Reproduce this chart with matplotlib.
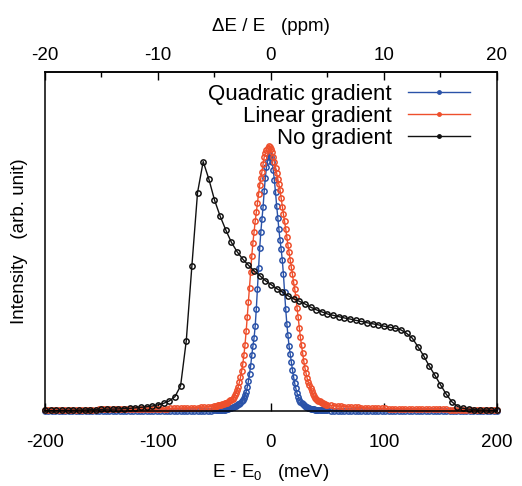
import numpy as np
import matplotlib
matplotlib.use('Agg')
import matplotlib.pyplot as plt
from matplotlib.lines import Line2D

plt.rcParams['font.family'] = ['Liberation Sans', 'DejaVu Sans']
plt.rcParams['mathtext.default'] = 'regular'
plt.rcParams['axes.unicode_minus'] = False

# energy grids (meV)
e_black = np.arange(-200, 201, 5)
e_tail_l = np.arange(-200, -52, 3)
e_core = np.arange(-50, 51, 1)
e_tail_r = np.arange(53, 201, 3)

# no gradient (black)
no_grad = [0.002, 0.002, 0.002, 0.003, 0.003, 0.003, 0.004, 0.004, 0.005, 0.005,
           0.006, 0.007, 0.007, 0.008, 0.009, 0.010, 0.012, 0.014, 0.016, 0.019,
           0.023, 0.029, 0.038, 0.054, 0.095, 0.264, 0.548, 0.824, 0.941, 0.875,
           0.796, 0.735, 0.683, 0.636, 0.601, 0.573, 0.550, 0.529, 0.511, 0.492,
           0.477, 0.462, 0.449, 0.435, 0.423, 0.414, 0.404, 0.392, 0.382, 0.374,
           0.366, 0.361, 0.356, 0.351, 0.347, 0.342, 0.338, 0.333, 0.329, 0.325,
           0.320, 0.316, 0.312, 0.306, 0.293, 0.275, 0.243, 0.209, 0.170, 0.135,
           0.099, 0.064, 0.035, 0.017, 0.010, 0.007, 0.005, 0.004, 0.004, 0.003,
           0.003]

# linear gradient (red)
lin_tail_l = [0.004, 0.004, 0.004, 0.004, 0.004, 0.004, 0.004, 0.005, 0.005, 0.005,
              0.005, 0.005, 0.005, 0.005, 0.005, 0.005, 0.006, 0.006, 0.006, 0.006,
              0.006, 0.006, 0.007, 0.007, 0.007, 0.007, 0.007, 0.007, 0.008, 0.008,
              0.008, 0.008, 0.008, 0.009, 0.009, 0.009, 0.009, 0.010, 0.010, 0.010,
              0.011, 0.011, 0.012, 0.012, 0.013, 0.013, 0.014, 0.015, 0.016, 0.017]
lin_core = [0.018, 0.019, 0.020, 0.021, 0.022, 0.023, 0.024, 0.026, 0.027, 0.029,
            0.030, 0.032, 0.035, 0.037, 0.040, 0.043, 0.047, 0.052, 0.059, 0.068,
            0.080, 0.092, 0.108, 0.127, 0.150, 0.177, 0.210, 0.250, 0.300, 0.355,
            0.410, 0.465, 0.525, 0.585, 0.635, 0.675, 0.715, 0.750, 0.785, 0.820,
            0.853, 0.878, 0.903, 0.932, 0.958, 0.972, 0.983, 0.993, 1.000, 0.996,
            0.988, 0.976, 0.960, 0.940, 0.918, 0.897, 0.876, 0.855, 0.834, 0.803,
            0.771, 0.742, 0.715, 0.688, 0.655, 0.625, 0.598, 0.570, 0.545, 0.515,
            0.485, 0.460, 0.430, 0.390, 0.355, 0.315, 0.278, 0.248, 0.218, 0.188,
            0.163, 0.142, 0.123, 0.108, 0.097, 0.087, 0.076, 0.066, 0.057, 0.050,
            0.045, 0.042, 0.039, 0.036, 0.033, 0.031, 0.029, 0.027, 0.026, 0.024,
            0.023]
lin_tail_r = [0.021, 0.020, 0.019, 0.018, 0.017, 0.016, 0.015, 0.014, 0.014, 0.013,
              0.012, 0.012, 0.011, 0.011, 0.010, 0.010, 0.010, 0.009, 0.009, 0.009,
              0.008, 0.008, 0.008, 0.008, 0.007, 0.007, 0.007, 0.007, 0.007, 0.006,
              0.006, 0.006, 0.006, 0.006, 0.006, 0.005, 0.005, 0.005, 0.005, 0.005,
              0.005, 0.005, 0.005, 0.004, 0.004, 0.004, 0.004, 0.004, 0.004, 0.004]

# quadratic gradient (blue)
quad_tail_l = [0.0005, 0.0005, 0.0005, 0.0005, 0.0005, 0.0005, 0.0005, 0.0005, 0.0005, 0.0005,
               0.0005, 0.0005, 0.0005, 0.0005, 0.0005, 0.0005, 0.0005, 0.001, 0.001, 0.001,
               0.001, 0.001, 0.001, 0.001, 0.001, 0.001, 0.001, 0.001, 0.001, 0.001,
               0.001, 0.001, 0.001, 0.001, 0.001, 0.001, 0.001, 0.001, 0.001, 0.001,
               0.001, 0.0012, 0.0012, 0.0013, 0.0014, 0.0015, 0.0016, 0.0017, 0.0018, 0.0019]
quad_core = [0.002, 0.002, 0.002, 0.003, 0.003, 0.003, 0.004, 0.004, 0.005, 0.005,
             0.006, 0.007, 0.009, 0.010, 0.011, 0.012, 0.014, 0.016, 0.018, 0.020,
             0.022, 0.025, 0.028, 0.032, 0.037, 0.043, 0.050, 0.060, 0.073, 0.090,
             0.112, 0.140, 0.170, 0.210, 0.245, 0.275, 0.320, 0.385, 0.460, 0.540,
             0.615, 0.675, 0.725, 0.770, 0.830, 0.880, 0.920, 0.943, 0.958, 0.965,
             0.958, 0.940, 0.910, 0.870, 0.825, 0.775, 0.730, 0.685, 0.645, 0.610,
             0.570, 0.515, 0.450, 0.385, 0.330, 0.285, 0.245, 0.215, 0.185, 0.155,
             0.128, 0.104, 0.085, 0.068, 0.054, 0.043, 0.035, 0.030, 0.025, 0.021,
             0.018, 0.016, 0.014, 0.012, 0.010, 0.009, 0.008, 0.007, 0.006, 0.005,
             0.005, 0.004, 0.004, 0.003, 0.003, 0.003, 0.002, 0.002, 0.002, 0.002,
             0.002]
quad_tail_r = [0.0019, 0.0018, 0.0017, 0.0016, 0.0015, 0.0014, 0.0013, 0.0012, 0.0012, 0.001,
               0.001, 0.001, 0.001, 0.001, 0.001, 0.001, 0.001, 0.001, 0.001, 0.001,
               0.001, 0.001, 0.001, 0.001, 0.001, 0.001, 0.001, 0.001, 0.001, 0.001,
               0.001, 0.001, 0.001, 0.0005, 0.0005, 0.0005, 0.0005, 0.0005, 0.0005, 0.0005,
               0.0005, 0.0005, 0.0005, 0.0005, 0.0005, 0.0005, 0.0005, 0.0005, 0.0005, 0.0005]

labels = ['Quadratic gradient', 'Linear gradient', 'No gradient']
colors = ['#2a52a8', '#ee4f2c', '#111111']

e_fine = np.concatenate([e_tail_l, e_core, e_tail_r])
quad = np.concatenate([quad_tail_l, quad_core, quad_tail_r])
lin = np.concatenate([lin_tail_l, lin_core, lin_tail_r])

fig = plt.figure(figsize=(5.22, 4.86), dpi=100)
ax = fig.add_axes([0.0862, 0.1543, 0.8659, 0.6976])

style = dict(marker='o', ms=3.8, mfc='none', mew=1.1, lw=1.0, clip_on=False)
ax.plot(e_fine, quad, color=colors[0], **style)
ax.plot(e_fine, lin, color=colors[1], **style)
ax.plot(e_black, no_grad, color=colors[2], **style)

ax.set_xlim(-200, 200)
ax.set_ylim(0, 1.279)
ax.set_yticks([])
ax.set_xticks([-200, -100, 0, 100, 200])
ax.set_xticks([-150, -50, 50, 150], minor=True)
ax.tick_params(axis='x', which='both', direction='in', labelsize=13.5, pad=16.5, width=1.0)
ax.tick_params(axis='x', which='major', length=6)
ax.tick_params(axis='x', which='minor', length=3.5)
for s in ax.spines.values():
    s.set_linewidth(1.1)

ax.set_xlabel('E - E$_0$   (meV)', fontsize=13.5, labelpad=8)
ax.set_ylabel('Intensity   (arb. unit)', fontsize=13.5, labelpad=12)

top = ax.secondary_xaxis('top', functions=(lambda x: x / 10, lambda x: x * 10))
top.set_xticks([-20, -10, 0, 10, 20])
top.set_xticks([-15, -5, 5, 15], minor=True)
top.tick_params(which='both', direction='in', labelsize=13.5, pad=6, width=1.0)
top.tick_params(which='major', length=6)
top.tick_params(which='minor', length=3.5)
top.spines['top'].set_linewidth(1.1)
top.set_xlabel('ΔE / E   (ppm)', fontsize=13.5, labelpad=11)

handles = [Line2D([], [], color=c, lw=1.0, marker='o', ms=2.5) for c in colors]
ax.legend(handles, labels, loc='upper right', bbox_to_anchor=(0.94, 0.966),
          frameon=False, markerfirst=False, fontsize=16, handlelength=2.8,
          handletextpad=0.7, labelspacing=0.06, borderpad=0, borderaxespad=0)

fig.savefig('out.png', dpi=100)
